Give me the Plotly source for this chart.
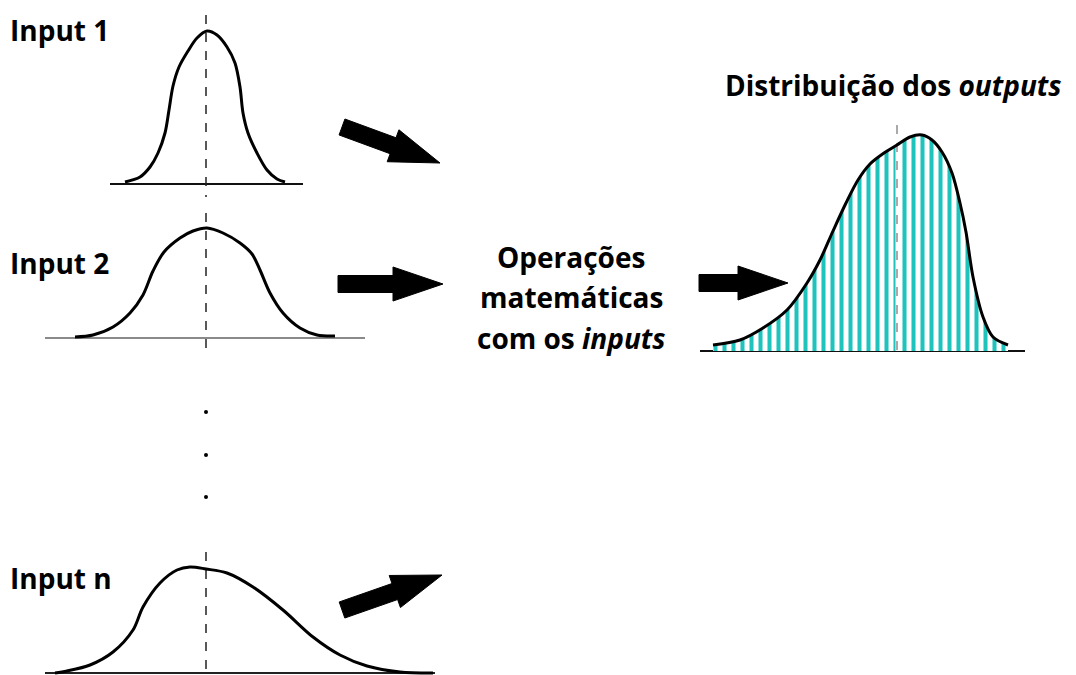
import math
import plotly.graph_objects as go

# ---- data (pixel space, y grows downward) ----
IN1_X = [125, 140, 150, 158, 165, 169, 173, 179, 188, 197, 207, 217, 227, 235, 240, 243, 248, 257, 267, 277, 285]
IN1_Y = [182, 177, 167, 153, 133, 110, 86, 67, 51, 38, 31, 35, 47, 63, 87, 113, 133, 153, 170, 179, 182]

IN2_X = [75, 93, 113, 130, 143, 153, 164, 180, 193, 207, 223, 240, 252, 260, 270, 283, 300, 317, 335]
IN2_Y = [337, 335, 327, 313, 295, 271, 252, 238, 231, 228, 233, 243, 254, 270, 293, 313, 328, 335, 336]

INN_X = [55, 67, 90, 113, 133, 143, 160, 177, 190, 206, 227, 253, 283, 313, 340, 367, 400, 433]
INN_Y = [673, 671, 665, 652, 630, 607, 583, 570, 567, 569, 573, 587, 610, 637, 655, 666, 672, 673]

OUT_X = [713, 740, 763, 787, 807, 820, 833, 846, 858, 870, 884, 897, 910, 922, 932, 942, 952, 960, 966, 973, 983, 993, 1008]
OUT_Y = [345, 340, 328, 310, 283, 260, 231, 203, 180, 164, 153, 145, 137, 135, 140, 152, 173, 203, 232, 277, 317, 337, 345]
OUT_BASE = 351

BASELINES = [  # x0, x1, y, colour
    (110, 303, 184, "#111111"),
    (45, 365, 338, "#8a8a8a"),
    (45, 435, 673, "#222222"),
    (700, 1025, OUT_BASE, "#111111"),
]
MEANS = [  # x, y_top, y_bottom
    (206, 15, 197),
    (206, 213, 350),
    (206, 552, 675),
]
ARROWS = [  # tail x, tail y, tip x, tip y
    (342, 127, 440, 163),
    (338, 284, 443, 284),
    (342, 610, 442, 575),
    (699, 283, 788, 283),
]
LABELS = [("Input 1", 8, 30), ("Input 2", 8, 263), ("Input n", 8, 578)]
MID_LINES = [("Operações", 257), ("matemáticas", 297), ("com os <i>inputs</i>", 338)]
DOTS_Y = [412, 455, 497]

FONT = "Open Sans"
FSIZE = 28

fig = go.Figure()

for x0, x1, y, c in BASELINES:
    fig.add_trace(go.Scatter(x=[x0, x1], y=[y, y], mode="lines",
                             line=dict(color=c, width=2), hoverinfo="skip"))

# output filled area with vertical hatching (between baseline and curve)
fig.add_trace(go.Scatter(x=[OUT_X[0], OUT_X[-1]], y=[OUT_BASE, OUT_BASE], mode="lines",
                         line=dict(width=0), hoverinfo="skip"))
fig.add_trace(go.Scatter(
    x=OUT_X, y=OUT_Y, mode="lines", line=dict(width=0, shape="spline", smoothing=0.9),
    fill="tonexty", fillcolor="rgba(0,0,0,0)",
    fillpattern=dict(shape="|", size=9, solidity=0.45, fgcolor="#1ec4bc",
                     fgopacity=1, bgcolor="white"),
    hoverinfo="skip"))

# output mean line (white through fill)
fig.add_trace(go.Scatter(x=[897, 897], y=[146, OUT_BASE], mode="lines",
                         line=dict(color="white", width=3), hoverinfo="skip"))
fig.add_trace(go.Scatter(x=[897, 897], y=[125, 358], mode="lines",
                         line=dict(color="#555555", width=1, dash="dash"), hoverinfo="skip"))

for x, y0, y1 in MEANS:
    fig.add_trace(go.Scatter(x=[x, x], y=[y0, y1], mode="lines",
                             line=dict(color="#222222", width=1.5, dash="dash"), hoverinfo="skip"))

for xs, ys in [(IN1_X, IN1_Y), (IN2_X, IN2_Y), (INN_X, INN_Y), (OUT_X, OUT_Y)]:
    fig.add_trace(go.Scatter(x=xs, y=ys, mode="lines",
                             line=dict(color="black", width=3, shape="spline", smoothing=0.9),
                             hoverinfo="skip"))

# dots
fig.add_trace(go.Scatter(x=[206] * len(DOTS_Y), y=DOTS_Y, mode="markers",
                         marker=dict(color="black", size=4), hoverinfo="skip"))

# block arrows as filled paths
HEAD_LEN, HEAD_HW, SHAFT_HW = 50, 17, 8.5
shapes = []
for tx, ty, hx, hy in ARROWS:
    L = math.hypot(hx - tx, hy - ty)
    ux, uy = (hx - tx) / L, (hy - ty) / L
    nx, ny = -uy, ux
    bx, by = hx - ux * HEAD_LEN, hy - uy * HEAD_LEN
    pts = [
        (tx + nx * SHAFT_HW, ty + ny * SHAFT_HW),
        (bx + nx * SHAFT_HW, by + ny * SHAFT_HW),
        (bx + nx * HEAD_HW, by + ny * HEAD_HW),
        (hx, hy),
        (bx - nx * HEAD_HW, by - ny * HEAD_HW),
        (bx - nx * SHAFT_HW, by - ny * SHAFT_HW),
        (tx - nx * SHAFT_HW, ty - ny * SHAFT_HW),
    ]
    path = "M " + " L ".join("%.2f,%.2f" % p for p in pts) + " Z"
    shapes.append(dict(type="path", xref="x", yref="y", path=path,
                       fillcolor="black", line=dict(color="black", width=1)))

anns = []
for t, x, y in LABELS:
    anns.append(dict(x=x, y=y, xref="x", yref="y", text=t, showarrow=False,
                     xanchor="left", yanchor="middle",
                     font=dict(family=FONT, size=FSIZE, color="black", weight=700)))
for t, y in MID_LINES:
    anns.append(dict(x=571, y=y, xref="x", yref="y", text=t, showarrow=False,
                     xanchor="center", yanchor="middle",
                     font=dict(family=FONT, size=FSIZE, color="black", weight=700)))
anns.append(dict(x=893, y=85, xref="x", yref="y", text="Distribuição dos <i>outputs</i>",
                 showarrow=False, xanchor="center", yanchor="middle",
                 font=dict(family=FONT, size=FSIZE, color="black", weight=700)))

fig.update_layout(
    width=1076, height=675, margin=dict(l=0, r=0, t=0, b=0),
    paper_bgcolor="white", plot_bgcolor="white", showlegend=False,
    xaxis=dict(range=[0, 1076], visible=False, fixedrange=True),
    yaxis=dict(range=[675, 0], visible=False, fixedrange=True),
    annotations=anns, shapes=shapes,
)
fig.write_html("out.html", config={"displayModeBar": False},
               post_script="document.body.style.margin='0';document.body.style.overflow='hidden';")
